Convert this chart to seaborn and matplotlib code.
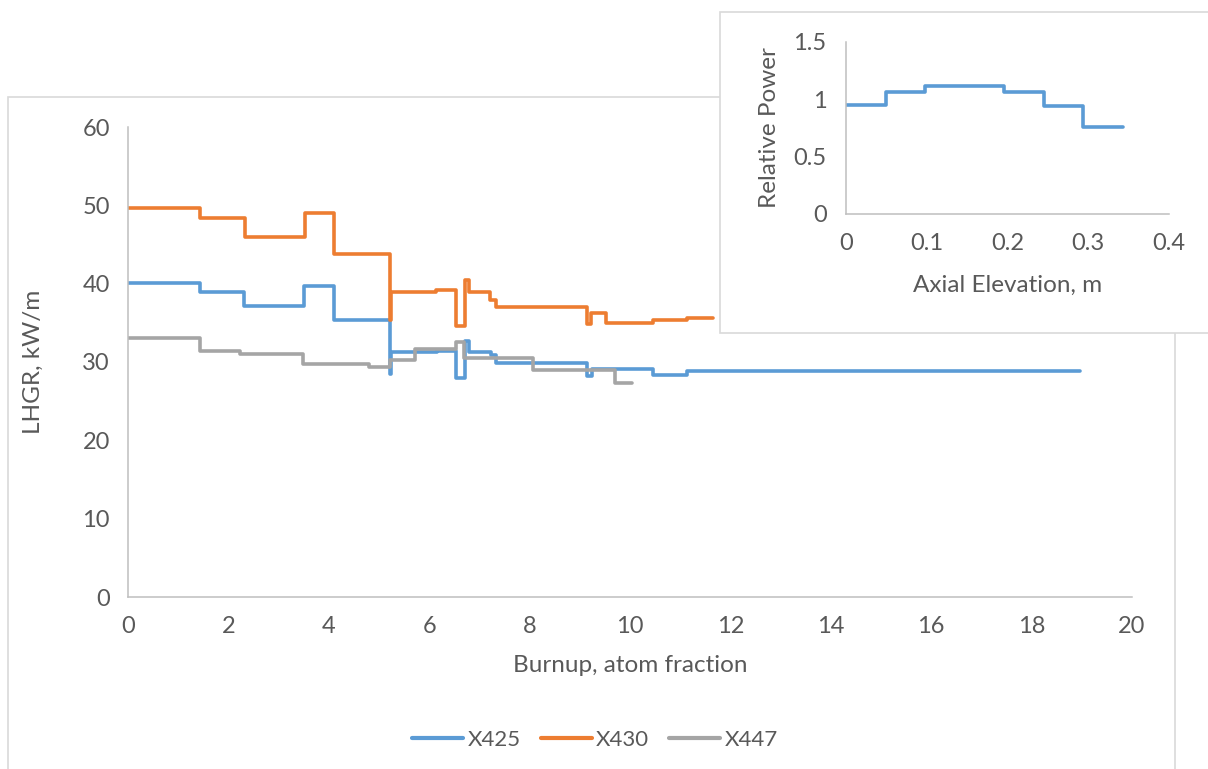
import matplotlib
matplotlib.use("Agg")
import matplotlib.pyplot as plt
import seaborn as sns
import pandas as pd
from matplotlib.patches import Rectangle
from matplotlib.lines import Line2D

# ---- data (step vertices, drawn with steps-post) ----
x425 = [0, 1.43, 2.32, 3.51, 4.10, 5.22, 5.24, 6.15, 6.53, 6.71, 6.80, 7.24, 7.33, 9.14, 9.24, 10.45, 11.13, 18.96]
y425 = [40.1, 39.0, 37.2, 39.7, 35.4, 28.5, 31.3, 31.4, 27.9, 32.7, 31.3, 30.9, 29.9, 28.2, 29.1, 28.3, 28.8, 28.8]

x430 = [0, 1.43, 2.33, 3.52, 4.10, 5.22, 5.24, 6.13, 6.53, 6.71, 6.80, 7.21, 7.33, 9.14, 9.22, 9.52, 10.45, 11.13, 11.65]
y430 = [49.7, 48.4, 46.0, 49.0, 43.8, 35.4, 38.9, 39.2, 34.6, 40.5, 39.0, 37.9, 37.0, 34.9, 36.3, 35.0, 35.3, 35.6, 35.6]

x447 = [0, 1.43, 2.23, 3.49, 4.81, 5.21, 5.72, 6.54, 6.70, 8.06, 9.70, 10.03]
y447 = [33.1, 31.4, 31.0, 29.8, 29.4, 30.3, 31.7, 32.6, 30.5, 29.0, 27.3, 27.3]

series_names = ["X425", "X430", "X447"]
colors = ["#5B9BD5", "#ED7D31", "#A5A5A5"]

x_ticks = [0, 2, 4, 6, 8, 10, 12, 14, 16, 18, 20]
y_ticks = [0, 10, 20, 30, 40, 50, 60]

elev = [0, 0.049, 0.098, 0.196, 0.245, 0.294, 0.343]
rel_power = [0.95, 1.06, 1.115, 1.065, 0.94, 0.76, 0.76]
inset_x_ticks = [0, 0.1, 0.2, 0.3, 0.4]
inset_x_labels = ["0", "0.1", "0.2", "0.3", "0.4"]
inset_y_ticks = [0, 0.5, 1, 1.5]
inset_y_labels = ["0", "0.5", "1", "1.5"]

# ---- styling ----
sns.set_theme(style="white")
plt.rcParams["font.family"] = ["Lato", "DejaVu Sans"]
txt = "#595959"
spine_c = "#BFBFBF"
frame_c = "#D9D9D9"
TICK_FS = 17
LABEL_FS = 17.5

W, H = 1208, 769
fig = plt.figure(figsize=(W / 100, H / 100), dpi=100)

# main chart frame
fig.patches.append(Rectangle((8 / W, -0.05), (1175 - 8) / W, (769 - 97) / H + 0.05,
                             transform=fig.transFigure, facecolor="white",
                             edgecolor=frame_c, lw=1.2, zorder=-2))
# inset chart box
fig.patches.append(Rectangle((720 / W, 1 - 333 / H), (1215 - 720) / W, (333 - 12) / H,
                             transform=fig.transFigure, facecolor="white",
                             edgecolor=frame_c, lw=1.2, zorder=1))

ax = fig.add_axes([128 / W, 1 - 597 / H, (1132 - 128) / W, (597 - 127) / H], zorder=0)
ax.set_facecolor("none")

for xs, ys, name, c in zip([x425, x430, x447], [y425, y430, y447], series_names, colors):
    df = pd.DataFrame({"x": xs, "y": ys})
    sns.lineplot(data=df, x="x", y="y", ax=ax, color=c, lw=2.6, sort=False,
                 estimator=None, drawstyle="steps-post", label=name, legend=False)

ax.set_xlim(0, 20)
ax.set_ylim(0, 60)
ax.set_xticks(x_ticks)
ax.set_yticks(y_ticks)
ax.tick_params(axis="x", length=0, labelsize=TICK_FS, labelcolor=txt, pad=14)
ax.tick_params(axis="y", length=0, labelsize=TICK_FS, labelcolor=txt, pad=13)
for s in ["top", "right"]:
    ax.spines[s].set_visible(False)
for s in ["left", "bottom"]:
    ax.spines[s].set_color(spine_c)
    ax.spines[s].set_linewidth(1.1)
ax.set_xlabel("Burnup, atom fraction", fontsize=LABEL_FS, color=txt)
ax.set_ylabel("LHGR, kW/m", fontsize=LABEL_FS, color=txt)
ax.xaxis.set_label_coords(0.5, (597 - 665) / 470)
ax.xaxis.label.set_va("center")
ax.yaxis.set_label_coords((33 - 128) / 1004, 0.5)
ax.yaxis.label.set_va("center")
ax.grid(False)

handles = [Line2D([0], [0], color=c, lw=3) for c in colors]
fig.legend(handles, series_names, loc="center", bbox_to_anchor=(595 / W, 1 - 740 / H),
           ncol=3, frameon=False, fontsize=16, labelcolor=txt, handlelength=2.3,
           handletextpad=0.2, columnspacing=0.9)

# ---- inset ----
iw = 1168.7 - 846
ih = 214 - 41.7
axi = fig.add_axes([846 / W, 1 - 214 / H, iw / W, ih / H], zorder=2)
axi.set_facecolor("none")
dfi = pd.DataFrame({"x": elev, "y": rel_power})
sns.lineplot(data=dfi, x="x", y="y", ax=axi, color=colors[0], lw=2.6, sort=False,
             estimator=None, drawstyle="steps-post")
axi.set_xlim(0, 0.4)
axi.set_ylim(0, 1.5)
axi.set_xticks(inset_x_ticks)
axi.set_xticklabels(inset_x_labels)
axi.set_yticks(inset_y_ticks)
axi.set_yticklabels(inset_y_labels)
axi.tick_params(axis="x", length=0, labelsize=TICK_FS, labelcolor=txt, pad=14)
axi.tick_params(axis="y", length=0, labelsize=TICK_FS, labelcolor=txt, pad=14)
for s in ["top", "right"]:
    axi.spines[s].set_visible(False)
for s in ["left", "bottom"]:
    axi.spines[s].set_color(spine_c)
    axi.spines[s].set_linewidth(1.1)
axi.set_xlabel("Axial Elevation, m", fontsize=LABEL_FS, color=txt)
axi.set_ylabel("Relative Power", fontsize=LABEL_FS, color=txt)
axi.xaxis.set_label_coords(0.5, (214 - 285) / ih)
axi.xaxis.label.set_va("center")
axi.yaxis.set_label_coords((770 - 846) / iw, 0.5)
axi.yaxis.label.set_va("center")
axi.grid(False)

fig.savefig("out.png", dpi=100, facecolor="white")
